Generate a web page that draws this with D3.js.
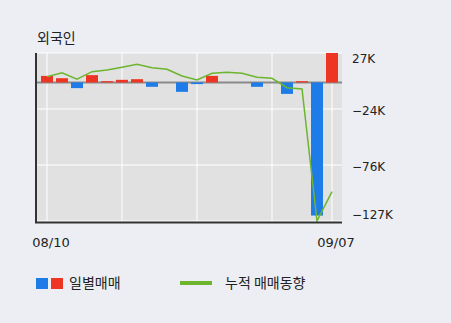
<!DOCTYPE html>
<html>
<head>
<meta charset="utf-8">
<script src="https://cdn.jsdelivr.net/npm/d3@7"></script>
<style>
	body { margin: 0; background: #eceef3; }
	svg { display: block; }
</style>
</head>
<body>
<div id="chartContainer"></div>
<script>
// daily net trading (K), one per trading day
let dailyValues = [6.0, 3.9, -5.2, 6.7, 1.2, 2.4, 3.0, -4.0, 0, -8.6, -1.5, 6.0, 0, 0, -4.0, 0, -10.5, 1.2, -122, 27];
// cumulative trend (K)
let cumulativeValues = [5.3, 8.9, 2.9, 9.9, 11.4, 13.9, 16.6, 13.5, 12.1, 5.9, 2.2, 8.4, 9.3, 8.4, 4.7, 3.8, -4.8, -6.0, -127, -100.1];
let yTickValues = [27, -24.3, -75.7, -127];
let yTickLabels = ["27K", "\u221224K", "\u221276K", "\u2212127K"];
let xTickIndex = [0, 19];
let xTickLabels = ["08/10", "09/07"];
let xGridIndex = [0, 5, 10, 15, 19];

function initializeChart(){

	let svg = d3.select("#chartContainer")
		.append("svg")
		.attr("width", 451)
		.attr("height", 323);

	let left = 37, right = 342, top = 53, bottom = 221;

	let xScale = d3.scaleBand()
		.domain(d3.range(dailyValues.length))
		.range([39.5, 339.5])
		.paddingInner(0.2)
		.paddingOuter(0.1);

	let yScale = d3.scaleLinear()
		.domain([-127, 27])
		.range([bottom, top]);

	let cx = i => xScale(i) + xScale.bandwidth() / 2;

	// plot background
	svg.append("rect")
		.attr("x", left)
		.attr("y", top)
		.attr("width", right - left)
		.attr("height", bottom - top + 1)
		.attr("fill", "#e1e1e1");

	// grid
	svg.selectAll(".hgrid")
		.data(yTickValues)
		.enter().append("line")
		.attr("x1", left).attr("x2", right)
		.attr("y1", d => yScale(d)).attr("y2", d => yScale(d))
		.attr("stroke", "#fff")
		.attr("stroke-width", 1);

	svg.selectAll(".vgrid")
		.data(xGridIndex)
		.enter().append("line")
		.attr("x1", d => cx(d)).attr("x2", d => cx(d))
		.attr("y1", top).attr("y2", bottom)
		.attr("stroke", "#fff")
		.attr("stroke-width", 1);

	// zero line
	svg.append("line")
		.attr("x1", left).attr("x2", right)
		.attr("y1", yScale(0)).attr("y2", yScale(0))
		.attr("stroke", "#8a8a8a")
		.attr("stroke-width", 2);

	// bars
	svg.selectAll(".bar")
		.data(dailyValues)
		.enter().append("rect")
		.attr("x", (d, i) => xScale(i))
		.attr("width", xScale.bandwidth())
		.attr("y", d => yScale(Math.max(0, d)))
		.attr("height", d => Math.abs(yScale(d) - yScale(0)))
		.attr("fill", d => d >= 0 ? "#ee3524" : "#1e7ce8");

	// cumulative line
	let line = d3.line()
		.x((d, i) => cx(i))
		.y(d => yScale(d));

	svg.append("path")
		.datum(cumulativeValues)
		.attr("d", line)
		.attr("fill", "none")
		.attr("stroke", "#6db52d")
		.attr("stroke-width", 1.5);

	// axes lines
	svg.append("line")
		.attr("x1", 36).attr("x2", 36)
		.attr("y1", top).attr("y2", bottom + 2)
		.attr("stroke", "#333")
		.attr("stroke-width", 2);

	svg.append("line")
		.attr("x1", 35).attr("x2", right)
		.attr("y1", bottom + 1.5).attr("y2", bottom + 1.5)
		.attr("stroke", "#333")
		.attr("stroke-width", 2);

	// y labels
	svg.selectAll(".ylabel")
		.data(yTickValues)
		.enter().append("text")
		.attr("x", 352)
		.attr("y", d => Math.min(Math.max(yScale(d) + 2, 59), 215))
		.attr("dy", "0.35em")
		.attr("font-family", "DejaVu Sans")
		.attr("font-size", 12)
		.attr("fill", "#222")
		.text((d, i) => yTickLabels[i]);

	// x labels
	svg.selectAll(".xlabel")
		.data(xTickIndex)
		.enter().append("text")
		.attr("x", d => cx(d) + 4)
		.attr("y", 242)
		.attr("dy", "0.35em")
		.attr("text-anchor", "middle")
		.attr("font-family", "DejaVu Sans")
		.attr("font-size", 13)
		.attr("fill", "#222")
		.text((d, i) => xTickLabels[i]);

	// title
	svg.append("text")
		.attr("x", 37)
		.attr("y", 38)
		.attr("dy", "0.35em")
		.attr("font-family", "Noto Sans CJK KR")
		.attr("font-size", 14)
		.attr("fill", "#222")
		.text("외국인");

	// legend
	svg.append("rect").attr("x", 36).attr("y", 278).attr("width", 12).attr("height", 11).attr("fill", "#1e7ce8");
	svg.append("rect").attr("x", 51).attr("y", 278).attr("width", 12).attr("height", 11).attr("fill", "#ee3524");
	svg.append("text")
		.attr("x", 69).attr("y", 283.5).attr("dy", "0.35em")
		.attr("font-family", "Noto Sans CJK KR").attr("font-size", 14).attr("fill", "#222")
		.text("일별매매");

	svg.append("line")
		.attr("x1", 180).attr("x2", 212)
		.attr("y1", 283).attr("y2", 283)
		.attr("stroke", "#6db52d")
		.attr("stroke-width", 4);
	svg.append("text")
		.attr("x", 225).attr("y", 283.5).attr("dy", "0.35em")
		.attr("font-family", "Noto Sans CJK KR").attr("font-size", 14).attr("fill", "#222")
		.text("누적 매매동향");
}

initializeChart();
</script>
</body>
</html>
